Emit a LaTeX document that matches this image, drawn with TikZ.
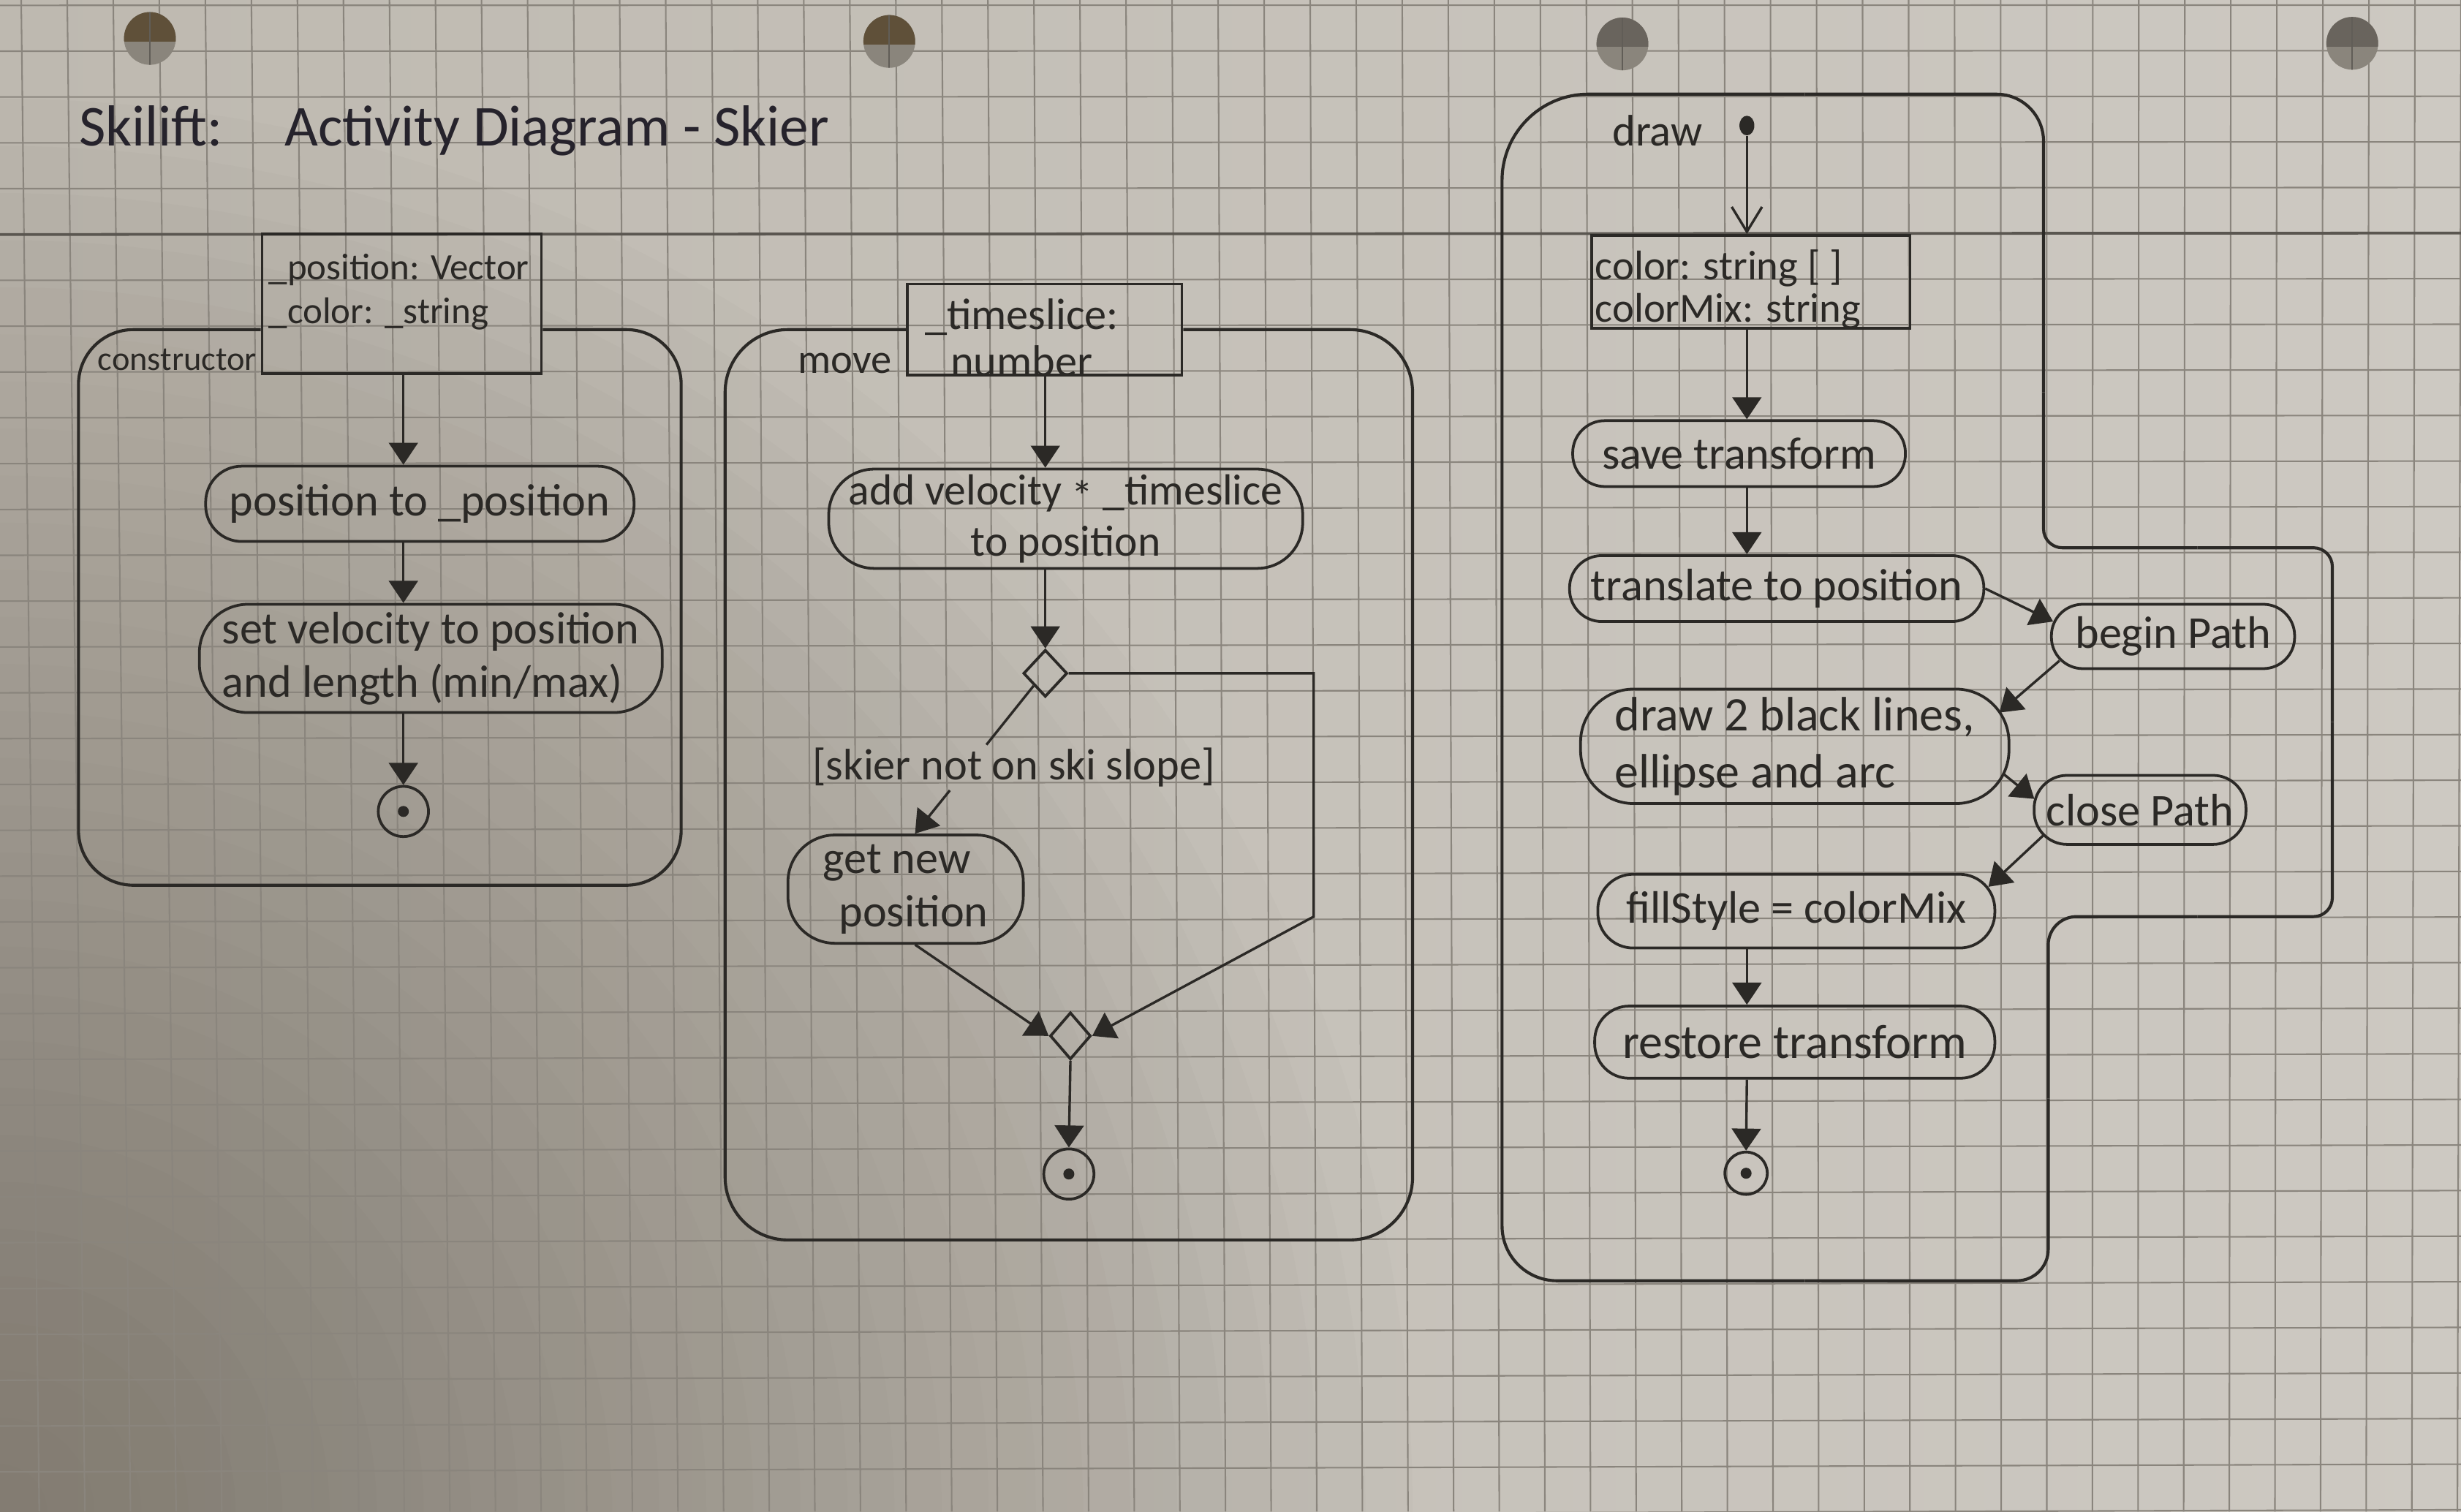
\documentclass[tikz,border=0pt]{standalone}
\usepackage{fontspec}
\setmainfont{Carlito}
\usetikzlibrary{arrows.meta,shapes.geometric,calc}

% paper, grid and ink colours
\definecolor{paperleft}{HTML}{BEB9B0}
\definecolor{paperright}{HTML}{CDC9C2}
\definecolor{paperdark}{HTML}{5E574C}
\definecolor{gridc}{HTML}{8A857D}
\definecolor{foldc}{HTML}{5A5650}
\definecolor{ink}{HTML}{2B2926}
\definecolor{titleink}{HTML}{26232C}
\definecolor{holedark}{HTML}{5F5039}
\definecolor{holegrey}{HTML}{69645D}
\definecolor{holelight}{HTML}{8A857C}

\newcommand\actfont{\fontsize{16.5}{19.5}\selectfont}
\newcommand\bigactfont{\fontsize{17.5}{20.5}\selectfont}
\newcommand\ttlfont{\fontsize{21}{25}\selectfont}
\newcommand\paramfontA{\fontsize{13.5}{15.9}\selectfont}
\newcommand\paramfontB{\fontsize{16}{17}\selectfont}
\newcommand\paramfontC{\fontsize{15}{15.5}\selectfont}

\begin{document}
\begin{tikzpicture}[x=0.02cm, y=-0.02cm,
  gridline/.style={draw=gridc, line width=0.55pt},
  foldline/.style={draw=foldc, line width=1pt},
  frameline/.style={draw=ink, line width=1.1pt},
  inkline/.style={draw=ink, line width=0.9pt},
  act/.style={rectangle, rounded corners=0.4cm, draw=ink, line width=1pt, text=ink,
    font=\actfont, inner sep=2pt, align=center},
  pbox/.style={rectangle, draw=ink, line width=1pt, inner sep=0pt},
  ptext/.style={text=ink, inner sep=0pt, align=left, anchor=west},
  lbl/.style={text=ink, inner sep=0pt, anchor=base west},
  flow/.style={draw=ink, line width=0.9pt, -{Triangle[length=8pt,width=10.5pt]}},
  openflow/.style={draw=ink, line width=0.9pt, -{Straight Barb[length=9pt,width=11pt]}},
  endnode/.style={circle, draw=ink, line width=1pt, minimum size=#1, inner sep=0pt,
    path picture={\fill[ink] (path picture bounding box.center) circle (0.07cm);}},
  decision/.style={diamond, draw=ink, line width=1pt, minimum width=0.56cm,
    minimum height=0.6cm, inner sep=0pt}
]

% ---------- sheet of squared paper ----------
\path[use as bounding box] (0,0) rectangle (1568,963);
\clip (0,0) rectangle (1568,963);
\shade[left color=paperleft, right color=paperright] (0,0) rectangle (1568,963);
% darker corner at the bottom left
\foreach \r in {30,60,...,900}
  \fill[paperdark, opacity=0.022] (0,963) circle (\r);

\foreach \k in {0,...,53}
  \draw[gridline] ({13.5+29.33*\k},0) -- ({25+29.07*\k},963);
\foreach \k in {-1,...,32}
  \draw[gridline] (0,{32.6+29.2*\k}) -- (1568,{32.3+29.05*\k});
\draw[foldline] (0,149.4) -- (1568,148.5);

% punched holes
\foreach \cx/\cy/\top in {95.5/24.5/holedark, 566.6/26.4/holedark, 1033.7/28/holegrey, 1498.7/27.6/holegrey} {
  \begin{scope}
    \clip (\cx,\cy) ellipse [x radius=16.5, y radius=16.8];
    \fill[holelight] (\cx-20,\cy-20) rectangle (\cx+20,\cy+20);
    \fill[\top] (\cx-20,\cy-20) rectangle (\cx+20,\cy+2);
    \draw[gridc!70!black, line width=0.6pt] (\cx,\cy-20) -- (\cx,\cy+20);
  \end{scope}
}

% ---------- title ----------
\node[lbl, text=titleink, font=\ttlfont] (title1) at (50,93) {Skilift:};
\node[lbl, text=titleink, font=\ttlfont] (title2) at (181,93) {Activity Diagram - Skier};

% ---------- constructor ----------
\node[pbox, minimum width=3.56cm, minimum height=1.78cm] (params1) at (256,193.5) {};
\node[ptext, font=\paramfontA] (params1text) at (171,186) {\_position: Vector\\\_color: \_string};
\node[lbl, font=\fontsize{12.3}{14}\selectfont] (ctorlabel) at (62,236) {constructor};
\node[act, rounded corners=0.46cm, minimum width=5.46cm, minimum height=0.96cm] (pos1) at (267.5,321)
  {position to \_position};
\node[act, rounded corners=0.62cm, minimum width=5.9cm, minimum height=1.38cm, align=left] (vel1) at (274.5,419.5)
  {set velocity to position\\and length (min/max)};
\node[endnode=0.64cm] (fin1) at (257,517) {};

\draw[frameline, rounded corners=0.7cm] (params1.west |- 0,210) -- (50,210) -- (50,564)
  -- (434,564) -- (434,210) -- (params1.east |- 0,210);
\draw[flow] (params1.south -| fin1) -- (pos1.north -| fin1);
\draw[flow] (pos1.south -| fin1) -- (vel1.north -| fin1);
\draw[flow] (vel1.south -| fin1) -- (fin1.north);

% ---------- move ----------
\node[pbox, minimum width=3.5cm, minimum height=1.16cm] (params2) at (665.5,210) {};
\node[text=ink, inner sep=0pt, align=center, font=\paramfontB] (params2text) at (651,215) {\_timeslice:\\number};
\node[lbl, font=\fontsize{15}{17}\selectfont] (movelabel) at (508,238) {move};
\node[act, rounded corners=0.58cm, minimum width=6.04cm, minimum height=1.26cm,
  font=\fontsize{15.8}{18.5}\selectfont] (add2) at (679,330.5)
  {add velocity \raisebox{-0.3ex}{*} \_timeslice\\to position};
\node[decision] (dec2) at (666,429) {};
\node[act, rounded corners=0.6cm, minimum width=3.0cm, minimum height=1.38cm, align=left] (gnp2) at (577,566.5)
  {get new\\\hspace*{0.35em}position};
\node[decision, minimum width=0.52cm] (merge2) at (682,660) {};
\node[endnode=0.64cm] (fin2) at (681,748) {};
\node[text=ink, inner sep=1pt, font=\fontsize{16}{18}\selectfont] (guard2) at (646,489) {[skier not on ski slope]};
\coordinate (rb) at (837,584);
\coordinate (gnpin) at ($(gnp2.north)+(6,0)$);
\coordinate (gnpout) at ($(gnp2.south)+(6,0)$);

\draw[frameline, rounded corners=0.8cm] (params2.west |- 0,210) -- (462,210) -- (462,790)
  -- (900,790) -- (900,210) -- (params2.east |- 0,210);
\draw[flow] (params2.south -| dec2) -- (add2.north -| dec2);
\draw[flow] (add2.south -| dec2) -- (dec2.north);
\draw[inkline] (dec2.south west) --
  (intersection of dec2.south west--gnpin and guard2.north west--guard2.north east);
\draw[flow] (intersection of dec2.south west--gnpin and guard2.south west--guard2.south east)
  -- (gnpin);
\draw[flow] (dec2.east) -- (dec2.east -| rb) -- (rb) -- (merge2.east);
\draw[flow] (gnpout) -- (merge2.west);
\draw[flow] (merge2.south) -- (fin2.north);

% ---------- draw ----------
\node[lbl, font=\fontsize{16}{18}\selectfont] (drawlabel) at (1027,93) {draw};
\node[ellipse, fill=ink, minimum width=0.19cm, minimum height=0.25cm, inner sep=0pt] (init3) at (1113,80) {};
\node[pbox, minimum width=4.06cm, minimum height=1.18cm] (params3) at (1115.5,179.5) {};
\node[ptext, font=\paramfontC] (params3text) at (1016,184.5) {color: string [ ]\\colorMix: string};
\node[act, rounded corners=0.41cm, minimum width=4.24cm, minimum height=0.84cm] (save3) at (1108,289) {save transform};
\node[act, rounded corners=0.41cm, minimum width=5.28cm, minimum height=0.84cm] (trans3) at (1132,375) {translate to position};
\node[act, minimum width=3.1cm, minimum height=0.82cm] (begin3) at (1384.5,405.5) {begin Path};
\node[act, rounded corners=0.68cm, minimum width=5.46cm, minimum height=1.46cm, align=left, font=\bigactfont]
  (draw3) at (1143.5,475.5) {draw 2 black lines,\\ellipse and arc};
\node[act, rounded corners=0.42cm, minimum width=2.7cm, minimum height=0.88cm] (close3) at (1363.5,516) {close Path};
\node[act, rounded corners=0.45cm, minimum width=5.06cm, minimum height=0.94cm] (fill3) at (1144.5,580.5) {fillStyle = colorMix};
\node[act, rounded corners=0.44cm, minimum width=5.1cm, minimum height=0.92cm, font=\bigactfont]
  (restore3) at (1143.5,664) {restore transform};
\node[endnode=0.54cm] (fin3) at (1112.5,747.5) {};

% activity frame with the notch on its right side
\draw[frameline, rounded corners=1.1cm] (957,450) -- (957,60) -- (1150,60);
\draw[frameline, rounded corners=0.6cm] (1150,60) -- (1302,60) -- (1302,250);
\draw[frameline, rounded corners=0.24cm] (1302,250) -- (1302,349) -- (1400,349);
\draw[frameline, rounded corners=0.24cm] (1400,349) -- (1486,349) -- (1486,460);
\draw[frameline, rounded corners=0.24cm] (1486,460) -- (1486,584) -- (1400,584);
\draw[frameline, rounded corners=0.36cm] (1400,584) -- (1305,584) -- (1305,700);
\draw[frameline, rounded corners=0.4cm] (1305,700) -- (1305,816) -- (1150,816);
\draw[frameline, rounded corners=0.7cm] (1150,816) -- (957,816) -- (957,450);

\draw[openflow] (init3.south) -- (params3.north -| init3);
\draw[flow] (params3.south -| init3) -- (save3.north -| init3);
\draw[flow] (save3.south -| init3) -- (trans3.north -| init3);
\draw[flow] (trans3.east) -- ($(begin3.west)+(2,-9.5)$);
\draw[flow] ($(begin3.west)+(6,15.5)$) -- ($(draw3.east)+(-7,-21.5)$);
\draw[flow] ($(draw3.east)+(-4.5,17.5)$) -- ($(close3.west)+(1,-7)$);
\draw[flow] ($(close3.west)+(7,16)$) -- ($(fill3.east)+(-5,-15.5)$);
\draw[flow] (fill3.south -| init3) -- (restore3.north -| init3);
\draw[flow] (restore3.south -| init3) -- (fin3.north);

\end{tikzpicture}
\end{document}
